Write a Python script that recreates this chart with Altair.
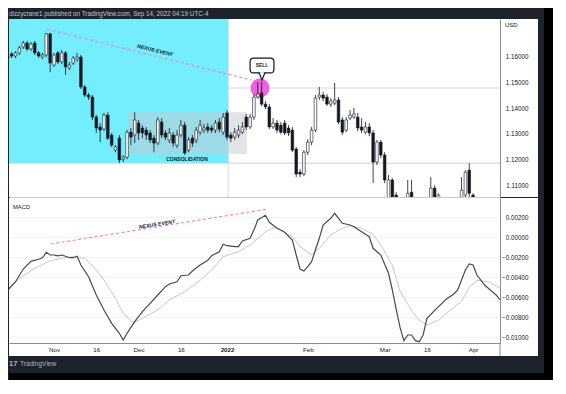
import altair as alt
import pandas as pd

# ---------------- data (bar index: trading days, 0 = 1 Nov 2021) ----------------
idx = [-12, -11, -10, -9, -8, -7, -6, -5, -4, -3,
       -2, -1, 0, 1, 2, 3, 4, 5, 6, 7,
       8, 9, 10, 11, 12, 13, 14, 15, 16, 17,
       18, 19, 20, 21, 22, 23, 24, 25, 26, 27,
       28, 29, 30, 31, 32, 33, 34, 35, 36, 37,
       38, 39, 40, 41, 42, 43, 44, 45, 46, 47,
       48, 49, 50, 51, 52, 53, 54, 55, 56, 57,
       58, 59, 60, 61, 62, 63, 64, 65, 66, 67,
       68, 69, 70, 71, 72, 73, 74, 75, 76, 77,
       78, 79, 80, 81, 82, 83, 84, 85, 86, 87,
       88, 89, 92, 93, 98, 99, 100, 106, 107, 108, 109]
opens = [1.1592, 1.1608, 1.1600, 1.1612, 1.1635, 1.1650, 1.1627, 1.1650, 1.1612, 1.1596,
         1.1604, 1.1685, 1.1565, 1.1612, 1.1577, 1.1612, 1.1554, 1.1573, 1.1588, 1.1596,
         1.1481, 1.1450, 1.1442, 1.1365, 1.1327, 1.1319, 1.1373, 1.1296, 1.1238, 1.1284,
         1.1203, 1.1211, 1.1307, 1.1296, 1.1342, 1.1323, 1.1315, 1.1304, 1.1284, 1.1265,
         1.1346, 1.1304, 1.1277, 1.1296, 1.1257, 1.1296, 1.1334, 1.1238, 1.1284, 1.1277,
         1.1307, 1.1315, 1.1327, 1.1323, 1.1315, 1.1346, 1.1307, 1.1381, 1.1296, 1.1288,
         1.1296, 1.1307, 1.1365, 1.1327, 1.1365, 1.1442, 1.1458, 1.1415, 1.1404, 1.1327,
         1.1342, 1.1334, 1.1342, 1.1323, 1.1315, 1.1242, 1.1153, 1.1146, 1.1230, 1.1269,
         1.1315, 1.1442, 1.1450, 1.1442, 1.1415, 1.1419, 1.1431, 1.1354, 1.1315, 1.1361,
         1.1365, 1.1365, 1.1327, 1.1307, 1.1327, 1.1304, 1.1192, 1.1269, 1.1219, 1.1046,
         1.1123, 1.1065, 1.1046, 1.1076, 1.1046, 1.1092, 1.1046, 1.1046, 1.1065, 1.1161, 1.1065]
highs = [1.1608, 1.1615, 1.1619, 1.1639, 1.1658, 1.1658, 1.1654, 1.1658, 1.1619, 1.1612,
         1.1689, 1.1689, 1.1612, 1.1619, 1.1623, 1.1619, 1.1577, 1.1600, 1.1612, 1.1604,
         1.1488, 1.1458, 1.1450, 1.1373, 1.1342, 1.1381, 1.1384, 1.1304, 1.1257, 1.1296,
         1.1219, 1.1315, 1.1323, 1.1384, 1.1354, 1.1334, 1.1327, 1.1315, 1.1296, 1.1365,
         1.1361, 1.1315, 1.1323, 1.1307, 1.1315, 1.1354, 1.1346, 1.1288, 1.1296, 1.1327,
         1.1354, 1.1338, 1.1342, 1.1334, 1.1354, 1.1361, 1.1381, 1.1392, 1.1307, 1.1323,
         1.1334, 1.1346, 1.1377, 1.1377, 1.1454, 1.1500, 1.1500, 1.1427, 1.1415, 1.1361,
         1.1354, 1.1346, 1.1354, 1.1334, 1.1327, 1.1250, 1.1165, 1.1238, 1.1280, 1.1327,
         1.1450, 1.1481, 1.1461, 1.1454, 1.1438, 1.1496, 1.1442, 1.1365, 1.1365, 1.1392,
         1.1400, 1.1381, 1.1361, 1.1346, 1.1342, 1.1315, 1.1277, 1.1277, 1.1230, 1.1142,
         1.1130, 1.1076, 1.1123, 1.1123, 1.1134, 1.1103, 1.1072, 1.1134, 1.1161, 1.1188, 1.1072]
lows = [1.1585, 1.1592, 1.1592, 1.1604, 1.1627, 1.1619, 1.1619, 1.1604, 1.1592, 1.1588,
        1.1596, 1.1538, 1.1558, 1.1569, 1.1569, 1.1527, 1.1546, 1.1565, 1.1577, 1.1473,
        1.1442, 1.1431, 1.1354, 1.1304, 1.1269, 1.1311, 1.1277, 1.1250, 1.1230, 1.1188,
        1.1192, 1.1203, 1.1257, 1.1265, 1.1277, 1.1284, 1.1277, 1.1265, 1.1230, 1.1257,
        1.1284, 1.1277, 1.1265, 1.1250, 1.1246, 1.1288, 1.1219, 1.1230, 1.1250, 1.1265,
        1.1296, 1.1304, 1.1304, 1.1304, 1.1304, 1.1307, 1.1296, 1.1277, 1.1269, 1.1277,
        1.1284, 1.1300, 1.1315, 1.1319, 1.1354, 1.1435, 1.1408, 1.1396, 1.1319, 1.1319,
        1.1304, 1.1300, 1.1296, 1.1292, 1.1230, 1.1134, 1.1134, 1.1138, 1.1219, 1.1257,
        1.1307, 1.1431, 1.1427, 1.1408, 1.1404, 1.1411, 1.1338, 1.1296, 1.1307, 1.1354,
        1.1358, 1.1311, 1.1304, 1.1300, 1.1292, 1.1111, 1.1180, 1.1207, 1.1111, 1.1026,
        1.1026, 1.1026, 1.1026, 1.1026, 1.1026, 1.1026, 1.1026, 1.1026, 1.1053, 1.1057, 1.1026]
closes = [1.1600, 1.1600, 1.1612, 1.1631, 1.1650, 1.1627, 1.1646, 1.1612, 1.1600, 1.1604,
          1.1685, 1.1573, 1.1604, 1.1577, 1.1612, 1.1558, 1.1565, 1.1592, 1.1596, 1.1481,
          1.1450, 1.1442, 1.1365, 1.1323, 1.1315, 1.1373, 1.1284, 1.1257, 1.1250, 1.1200,
          1.1211, 1.1307, 1.1288, 1.1354, 1.1304, 1.1304, 1.1296, 1.1277, 1.1265, 1.1354,
          1.1296, 1.1288, 1.1304, 1.1265, 1.1296, 1.1334, 1.1227, 1.1277, 1.1265, 1.1315,
          1.1334, 1.1323, 1.1315, 1.1315, 1.1342, 1.1319, 1.1365, 1.1288, 1.1284, 1.1307,
          1.1315, 1.1327, 1.1327, 1.1365, 1.1442, 1.1454, 1.1415, 1.1404, 1.1327, 1.1342,
          1.1315, 1.1307, 1.1304, 1.1304, 1.1238, 1.1146, 1.1146, 1.1230, 1.1269, 1.1315,
          1.1438, 1.1450, 1.1438, 1.1415, 1.1427, 1.1431, 1.1346, 1.1307, 1.1354, 1.1373,
          1.1377, 1.1323, 1.1315, 1.1327, 1.1304, 1.1192, 1.1269, 1.1219, 1.1123, 1.1123,
          1.1046, 1.1046, 1.1072, 1.1046, 1.1092, 1.1046, 1.1065, 1.1084, 1.1153, 1.1072, 1.1046]

macd_idx = [-12, -10, -8, -6, -4, -3, -2, -1, 0, 1, 2, 3, 4, 5, 6, 7, 9, 11, 13, 15,
            17, 18, 19, 21, 23, 25, 27, 29, 30, 32, 33, 35, 36, 38, 40, 41, 43, 44, 45, 47,
            48, 49, 51, 52, 53, 55, 56, 58, 60, 62, 63, 64, 65, 66, 67, 69, 70, 72, 73, 75,
            77, 78, 80, 82, 83, 85, 87, 88, 89, 90, 91, 92, 93, 94, 95, 96, 97, 100, 102, 104,
            105, 107, 108, 109, 110, 112, 114, 115, 116]
macd_val = [-0.00527, -0.00444, -0.00317, -0.00240, -0.00220, -0.00205, -0.00150, -0.00177, -0.00177, -0.00185,
            -0.00177, -0.00190, -0.00204, -0.00204, -0.00190, -0.00277, -0.00394, -0.00577, -0.00727, -0.00860,
            -0.00960, -0.01027, -0.00960, -0.00844, -0.00744, -0.00660, -0.00577, -0.00494, -0.00467, -0.00444,
            -0.00384, -0.00377, -0.00337, -0.00277, -0.00230, -0.00184, -0.00144, -0.00070, -0.00084, -0.00094,
            -0.00094, -0.00037, -0.00010, 0.00073, 0.00173, 0.00220, 0.00150, 0.00090, 0.00050, -0.00027,
            -0.00177, -0.00317, -0.00337, -0.00294, -0.00244, -0.00010, 0.00123, 0.00190, 0.00240, 0.00140,
            0.00123, 0.00106, 0.00056, 0.00006, -0.00110, -0.00177, -0.00360, -0.00527, -0.00720, -0.00900,
            -0.01034, -0.00977, -0.00977, -0.01034, -0.01044, -0.00977, -0.00810, -0.00694, -0.00620, -0.00567,
            -0.00527, -0.00327, -0.00267, -0.00277, -0.00377, -0.00477, -0.00544, -0.00577, -0.00627]
sig_idx = [-12, -9, -5, -1, 2, 5, 8, 10, 13, 16, 18, 20, 21, 23, 27, 30, 34, 38, 41, 44,
           48, 51, 55, 57, 58, 59, 62, 64, 67, 69, 72, 75, 77, 80, 83, 85, 88, 90, 93, 95,
           97, 100, 103, 106, 108, 110, 113, 116]
sig_val = [-0.00527, -0.00410, -0.00310, -0.00235, -0.00210, -0.00194, -0.00210, -0.00280, -0.00427, -0.00610,
           -0.00760, -0.00837, -0.00850, -0.00810, -0.00727, -0.00627, -0.00544, -0.00430, -0.00327, -0.00194,
           -0.00144, -0.00077, 0.00056, 0.00090, 0.00100, 0.00073, 0.00006, -0.00094, -0.00177, -0.00110,
           0.00023, 0.00090, 0.00116, 0.00090, 0.00030, -0.00077, -0.00280, -0.00540, -0.00730, -0.00830,
           -0.00877, -0.00830, -0.00730, -0.00640, -0.00500, -0.00430, -0.00444, -0.00510]

tick_pos = [0, 11, 22, 33, 45, 66, 86, 97, 109]
tick_lab = ["Nov", "16", "Dec", "16", "2022", "Feb", "Mar", "16", "Apr"]
price_ticks = [1.11, 1.12, 1.13, 1.14, 1.15, 1.16]
macd_ticks = [-0.010, -0.008, -0.006, -0.004, -0.002, 0.0, 0.002]

# annotations (data coordinates)
level_prices = [1.1477, 1.1188]
year_sep = [45.3]
cyan_box = {"i": [-12], "i2": [45.3], "p": [1.1188], "p2": [1.1750]}
consol_box = {"i": [19.25], "i2": [50.2], "p": [1.1223], "p2": [1.1384]}
sell_circle = {"i": [53.6], "p": [1.1477]}
nexus_top = {"i": [-1.8, 51.2], "p": [1.1703, 1.1508]}
nexus_macd = {"i": [-0.8, 55.2], "v": [-0.00067, 0.0028]}
sell_box = {"i": [51.0], "i2": [57.2], "p": [1.1535], "p2": [1.1592]}
sell_tip = {"i": [54.1], "p": [1.1521]}
sell_txt = {"i": [54.1], "p": [1.1563], "t": ["SELL"]}
nexus_txt_top = {"i": [26.3], "p": [1.1623], "t": ["NEXUS EVENT"]}
nexus_txt_macd = {"i": [26.8], "v": [0.00133], "t": ["NEXUS EVENT"]}
consol_txt = {"i": [34.6], "p": [1.1203], "t": ["CONSOLIDATION"]}

# ---------------- style ----------------
FONT = "Liberation Sans"
DARK = "#1e222d"
CYAN = "#74eefc"
PINK = "#f060dc"
PINKL = "#f07ae4"
INK = "#131722"
AXC = "#8a8d96"
W, HT, HB = 491, 178, 145

xs = alt.Scale(domain=[-11.7, 116.0], nice=False, zero=False, padding=0)
ys_top = alt.Scale(domain=[1.105769, 1.174231], nice=False, zero=False, padding=0)
ys_bot = alt.Scale(domain=[-0.01057, 0.00393], nice=False, zero=False, padding=0)

ax_x_top = alt.Axis(labels=False, ticks=False, tickSize=0, grid=False, domainColor="#c6c9d1",
                    zindex=1, title=None)
ax_y_top = alt.Axis(orient="right", values=price_ticks, format=".5f", labelAlign="right",
                    labelPadding=28, ticks=False, tickSize=0, grid=False, domainColor=AXC,
                    labelColor=INK, labelFontSize=6.3, labelOverlap=False, zindex=1, title=None)
lab_expr = " : ".join(f"datum.value == {p} ? '{l}'" for p, l in zip(tick_pos, tick_lab)) + " : ''"
ax_x_bot = alt.Axis(values=tick_pos, labelExpr=lab_expr, labelPadding=3, ticks=False, tickSize=0,
                    grid=False, domainColor=AXC, labelColor=INK, labelFontSize=6.2,
                    labelFontWeight={"condition": {"test": "datum.value == 45", "value": "bold"},
                                     "value": "normal"},
                    labelOverlap=False, labelFlush=False, zindex=1, title=None)
ax_y_bot = alt.Axis(orient="right", values=macd_ticks, format=".5f", labelAlign="right",
                    labelPadding=28, ticks=False, tickSize=0, grid=False, domainColor=AXC,
                    labelColor=INK, labelFontSize=6.3, labelOverlap=False, zindex=1, title=None)

XT = lambda f="i": alt.X(f"{f}:Q", scale=xs, axis=ax_x_top)
YT = lambda f="p": alt.Y(f"{f}:Q", scale=ys_top, axis=ax_y_top)
XB = lambda f="i": alt.X(f"{f}:Q", scale=xs, axis=ax_x_bot)
YB = lambda f="v": alt.Y(f"{f}:Q", scale=ys_bot, axis=ax_y_bot)

cdf = pd.DataFrame({"i": idx, "o": opens, "h": highs, "l": lows, "c": closes})
one = pd.DataFrame({"a": [0]})

# ---------------- top panel ----------------
strip = alt.Chart(one).mark_rect(color=DARK).encode(
    x=alt.value(0), x2=alt.value(544), y=alt.value(-11), y2=alt.value(0))
white_top = alt.Chart(one).mark_rect(color="#ffffff").encode(
    x=alt.value(0), x2=alt.value(529), y=alt.value(0), y2=alt.value(HT))
levels = alt.Chart(pd.DataFrame({"p": level_prices})).mark_rule(
    color="#d6d9e0", strokeWidth=1.2).encode(y=YT())
vsep = alt.Chart(pd.DataFrame({"i": year_sep})).mark_rule(
    color="#d6d9e0", strokeWidth=1).encode(x=XT())
cyan = alt.Chart(pd.DataFrame(cyan_box)).mark_rect(color=CYAN, clip=True).encode(
    x=XT(), x2="i2:Q", y=YT(), y2="p2:Q")
consol = alt.Chart(pd.DataFrame(consol_box)).mark_rect(color="#c4c7cf", opacity=0.5).encode(
    x=XT(), x2="i2:Q", y=YT(), y2="p2:Q")
circle = alt.Chart(pd.DataFrame(sell_circle)).mark_point(
    filled=True, size=361, shape="circle", color=PINK, opacity=1).encode(x=XT(), y=YT())
wicks = alt.Chart(cdf).mark_rule(color=INK, strokeWidth=0.8, clip=True).encode(
    x=XT(), y=YT("l"), y2="h:Q")
bodies = alt.Chart(cdf).mark_bar(size=2.6, stroke=INK, strokeWidth=0.6, clip=True).encode(
    x=XT(), y=YT("o"), y2="c:Q",
    fill=alt.condition("datum.c >= datum.o", alt.value("#ffffff"), alt.value(INK)))
dash_top = alt.Chart(pd.DataFrame(nexus_top)).mark_line(
    color=PINKL, strokeDash=[3, 2.5], strokeWidth=1.1).encode(x=XT(), y=YT())
txt_nexus_top = alt.Chart(pd.DataFrame(nexus_txt_top)).mark_text(
    angle=14, fontSize=5.2, fontWeight="bold", fontStyle="italic", color=INK).encode(
    x=XT(), y=YT(), text="t:N")
txt_consol = alt.Chart(pd.DataFrame(consol_txt)).mark_text(
    fontSize=5, fontWeight="bold", color=INK).encode(x=XT(), y=YT(), text="t:N")
sbox = alt.Chart(pd.DataFrame(sell_box)).mark_rect(
    cornerRadius=3.5, fill="#ffffff", stroke=INK, strokeWidth=1.2).encode(
    x=XT(), x2="i2:Q", y=YT(), y2="p2:Q")
stip = alt.Chart(pd.DataFrame(sell_tip)).mark_point(
    shape="M-0.9,-1.2L0,1L0.9,-1.2", size=49, filled=True, fill="#ffffff", stroke=INK,
    strokeWidth=1.2, opacity=1).encode(x=XT(), y=YT())
stxt = alt.Chart(pd.DataFrame(sell_txt)).mark_text(
    fontSize=4.8, fontWeight="bold", color=INK).encode(x=XT(), y=YT(), text="t:N")
usd = alt.Chart(one).mark_text(text="USD", fontSize=6, color=INK, align="left").encode(
    x=alt.value(496), y=alt.value(6))
header = alt.Chart(one).mark_text(
    text="dizzycrane1 published on TradingView.com, Sep 14, 2022 04:19 UTC-4",
    fontSize=6.3, color="#c3c6ce", align="left").encode(x=alt.value(0), y=alt.value(-5.5))

top = alt.layer(strip, white_top, levels, vsep, cyan, consol, circle, wicks, bodies,
                dash_top, txt_nexus_top, txt_consol, sbox, stip, stxt, usd, header
                ).properties(width=W, height=HT)

# ---------------- MACD panel ----------------
white_bot = alt.Chart(one).mark_rect(color="#ffffff").encode(
    x=alt.value(0), x2=alt.value(529), y=alt.value(0), y2=alt.value(158))
black_r = alt.Chart(one).mark_rect(color="#000000").encode(
    x=alt.value(535), x2=alt.value(544), y=alt.value(-190), y2=alt.value(182))
black_b = alt.Chart(one).mark_rect(color="#000000").encode(
    x=alt.value(0), x2=alt.value(544), y=alt.value(175), y2=alt.value(182))
grid = alt.Chart(pd.DataFrame({"v": macd_ticks})).mark_rule(
    color="#f1f2f5", strokeWidth=1).encode(y=YB())
dash_bot = alt.Chart(pd.DataFrame(nexus_macd)).mark_line(
    color=PINKL, strokeDash=[3, 2.5], strokeWidth=1.1).encode(x=XB(), y=YB())
sig = alt.Chart(pd.DataFrame({"i": sig_idx, "v": sig_val})).mark_line(
    color="#c8c8c8", strokeWidth=1, clip=True).encode(x=XB(), y=YB())
macd = alt.Chart(pd.DataFrame({"i": macd_idx, "v": macd_val})).mark_line(
    color="#4a4a4a", strokeWidth=1.2, clip=True).encode(x=XB(), y=YB())
txt_macd = alt.Chart(one).mark_text(text="MACD", fontSize=5.8, color=INK, align="left").encode(
    x=alt.value(4), y=alt.value(9))
txt_nexus_bot = alt.Chart(pd.DataFrame(nexus_txt_macd)).mark_text(
    angle=351, fontSize=5.2, fontWeight="bold", fontStyle="italic", color=INK).encode(
    x=XB(), y=YB(), text="t:N")
axline = alt.Chart(one).mark_rule(color=AXC).encode(
    x=alt.value(W), y=alt.value(HB), y2=alt.value(158))
logo = alt.Chart(one).mark_text(text="17", fontSize=7.5, fontWeight="bold", color="#b2b5be",
                                align="left").encode(x=alt.value(0), y=alt.value(166))
brand = alt.Chart(one).mark_text(text="TradingView", fontSize=6.6, color="#b2b5be",
                                 align="left").encode(x=alt.value(11), y=alt.value(166))

bottom = alt.layer(white_bot, black_r, black_b, grid, dash_bot, sig, macd, txt_macd,
                   txt_nexus_bot, axline, logo, brand).properties(width=W, height=HB)

chart = alt.vconcat(top, bottom, spacing=1, bounds="flush", padding=0, background=DARK
                    ).configure_view(strokeWidth=0).configure_axis(labelFont=FONT
                    ).configure_text(font=FONT)

chart.save("out.html", embed_options={"renderer": "svg", "actions": False})
